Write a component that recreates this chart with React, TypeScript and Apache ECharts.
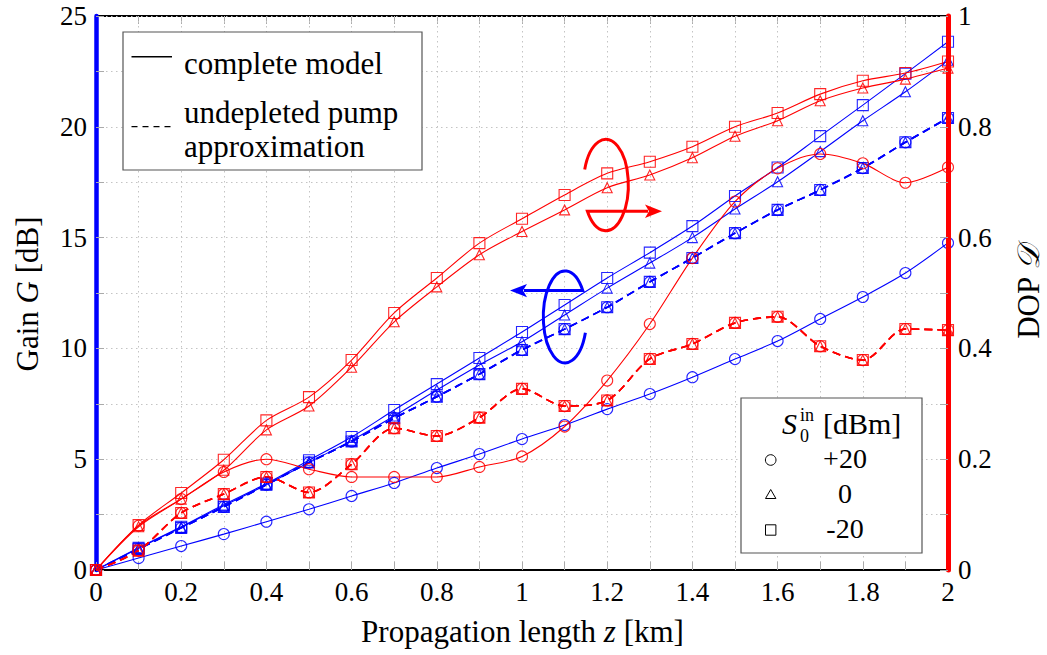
import React, { useEffect, useRef } from "react";
import * as echarts from "echarts";

const FONT = "Liberation Serif, DejaVu Serif, Times New Roman, serif";

// Propagation length z [km]
const zValues = [0, 0.1, 0.2, 0.3, 0.4, 0.5, 0.6, 0.7, 0.8, 0.9, 1.0, 1.1, 1.2, 1.3, 1.4, 1.5, 1.6, 1.7, 1.8, 1.9, 2.0];

// Gain G [dB], complete model
const gainComplete20 = [0, 0.54, 1.08, 1.62, 2.18, 2.74, 3.34, 3.93, 4.6, 5.23, 5.91, 6.54, 7.26, 7.94, 8.7, 9.52, 10.33, 11.33, 12.32, 13.4, 14.76];
const gainComplete0 = [0, 0.98, 1.92, 2.9, 3.85, 4.85, 5.85, 6.95, 8.12, 9.25, 10.3, 11.51, 12.72, 13.85, 15.0, 16.29, 17.52, 18.88, 20.27, 21.58, 23.0];
const gainCompleteM20 = [0, 1.0, 1.95, 2.95, 3.9, 4.95, 6.0, 7.22, 8.39, 9.57, 10.74, 11.96, 13.18, 14.32, 15.52, 16.88, 18.16, 19.58, 20.98, 22.4, 23.84];
// Gain G [dB], undepleted pump approximation
const gainUndepleted20 = [0, 0.95, 1.9, 2.85, 3.85, 4.85, 5.8, 6.85, 7.82, 8.84, 9.93, 10.87, 11.86, 13.0, 14.08, 15.2, 16.25, 17.15, 18.14, 19.3, 20.4];
const gainUndepleted0 = [0, 0.95, 1.9, 2.85, 3.85, 4.85, 5.8, 6.85, 7.82, 8.84, 9.93, 10.87, 11.86, 13.0, 14.08, 15.2, 16.25, 17.15, 18.14, 19.3, 20.4];
const gainUndepletedM20 = [0, 0.95, 1.9, 2.85, 3.85, 4.85, 5.8, 6.85, 7.82, 8.84, 9.93, 10.87, 11.86, 13.0, 14.08, 15.2, 16.25, 17.15, 18.14, 19.3, 20.4];

// DOP, complete model
const dopComplete20 = [0, 0.08, 0.128, 0.177, 0.2, 0.182, 0.168, 0.168, 0.168, 0.186, 0.205, 0.259, 0.342, 0.444, 0.563, 0.665, 0.725, 0.751, 0.734, 0.699, 0.727];
const dopComplete0 = [0, 0.078, 0.128, 0.18, 0.253, 0.296, 0.366, 0.448, 0.511, 0.569, 0.611, 0.65, 0.69, 0.713, 0.744, 0.783, 0.811, 0.847, 0.87, 0.886, 0.906];
const dopCompleteM20 = [0, 0.081, 0.139, 0.199, 0.27, 0.312, 0.379, 0.464, 0.527, 0.59, 0.634, 0.677, 0.716, 0.737, 0.764, 0.8, 0.825, 0.859, 0.883, 0.897, 0.918];
// DOP, undepleted pump approximation
const dopUndepleted20 = [0, 0.035, 0.103, 0.137, 0.168, 0.14, 0.191, 0.256, 0.242, 0.275, 0.327, 0.296, 0.306, 0.381, 0.408, 0.446, 0.457, 0.404, 0.379, 0.435, 0.433];
const dopUndepleted0 = [0, 0.035, 0.103, 0.137, 0.168, 0.14, 0.191, 0.256, 0.242, 0.275, 0.327, 0.296, 0.306, 0.381, 0.408, 0.446, 0.457, 0.404, 0.379, 0.435, 0.433];
const dopUndepletedM20 = [0, 0.035, 0.103, 0.137, 0.168, 0.14, 0.191, 0.256, 0.242, 0.275, 0.327, 0.296, 0.306, 0.381, 0.408, 0.446, 0.457, 0.404, 0.379, 0.435, 0.433];

const powerLabels = ["+20", "0", "-20"];

const BLUE = "#0000ff";
const RED = "#ff0000";

echarts.graphic.registerShape(
  "redLoop",
  echarts.graphic.extendPath("M584.7 169.4 A22.5 45.7 0 1 1 587.4 211.2 L648 211.2", {})
);
echarts.graphic.registerShape(
  "blueLoop",
  echarts.graphic.extendPath("M585.4 332.7 A21.7 46 0 1 1 582.8 290.6 L524 290.6", {})
);

function mkSeries(name: string, values: number[], yIndex: number, color: string, symbol: string, size: number, dashed: boolean) {
  return {
    name,
    type: "line",
    yAxisIndex: yIndex,
    data: zValues.map((z, i) => [z, values[i]]),
    smooth: 0.3,
    clip: false,
    symbol,
    symbolSize: size,
    showSymbol: true,
    lineStyle: { color, width: dashed ? 1.6 : 1.1, type: dashed ? [8, 5] : "solid" },
    itemStyle: { color: "rgba(0,0,0,0)", borderColor: color, borderWidth: 1.1, opacity: 0.85 },
    emphasis: { disabled: true },
    z: 2,
  };
}

const txt = (text: string, x: number, y: number, size: number, extra: any = {}) => {
  const base = {
    fontFamily: FONT,
    fontSize: size,
    fontStyle: extra.italic ? "italic" : "normal",
    fill: "#000",
  };
  const style: any = {
    text,
    ...base,
    textAlign: extra.align || "left",
    textVerticalAlign: "middle",
    rich: {
      i: { ...base, fontStyle: "italic" },
    },
  };
  return {
    type: "text",
    x,
    y,
    z: 20,
    style,
    rotation: extra.rotation || 0,
  };
};

export default function App() {
  const ref = useRef<HTMLDivElement>(null);
  useEffect(() => {
    if (!ref.current) return;
    const chart = echarts.init(ref.current, undefined, { renderer: "svg" });
    const gridLine = { show: true, lineStyle: { color: "#c4c4c4", width: 1, type: [1.5, 3.5] } };
    const tick = { show: true, inside: true, length: 8, lineStyle: { color: "#aaaaaa", width: 1 } };
    const minorTick = { show: true, splitNumber: 2, length: 8, lineStyle: { color: "#aaaaaa", width: 1 } };
    const labelStyle = { fontFamily: FONT, fontSize: 27, color: "#000" };
    const option: any = {
      animation: false,
      grid: { left: 96, right: 99, top: 16, bottom: 85, containLabel: false },
      xAxis: [
        {
          type: "value",
          min: 0,
          max: 2,
          interval: 0.2,
          position: "bottom",
          axisLine: { show: true, onZero: false, lineStyle: { color: "#000", width: 2.2 } },
          axisTick: tick,
          minorTick,
          splitLine: gridLine,
          minorSplitLine: gridLine,
          axisLabel: { ...labelStyle, margin: 8 },
          z: 1,
        },
        {
          type: "value",
          min: 0,
          max: 2,
          interval: 0.2,
          position: "top",
          axisLine: { show: true, onZero: false, lineStyle: { color: "#000", width: 2.2 } },
          axisTick: tick,
          minorTick,
          splitLine: { show: false },
          axisLabel: { show: false },
        },
      ],
      yAxis: [
        {
          type: "value",
          min: 0,
          max: 25,
          interval: 5,
          position: "left",
          axisLine: { show: true, onZero: false, lineStyle: { color: BLUE, width: 4.5 } },
          axisTick: tick,
          minorTick,
          splitLine: gridLine,
          minorSplitLine: gridLine,
          axisLabel: { ...labelStyle, margin: 9 },
          z: 1,
        },
        {
          type: "value",
          min: 0,
          max: 1,
          interval: 0.2,
          position: "right",
          axisLine: { show: true, onZero: false, lineStyle: { color: RED, width: 5 } },
          axisTick: tick,
          minorTick,
          splitLine: { show: false },
          axisLabel: { ...labelStyle, margin: 10 },
          z: 5,
        },
      ],
      series: [
        mkSeries("gain complete +20", gainComplete20, 0, BLUE, "circle", 11, false),
        mkSeries("gain complete 0", gainComplete0, 0, BLUE, "triangle", 10, false),
        mkSeries("gain complete -20", gainCompleteM20, 0, BLUE, "rect", 11, false),
        mkSeries("gain undepleted +20", gainUndepleted20, 0, BLUE, "circle", 11, true),
        mkSeries("gain undepleted 0", gainUndepleted0, 0, BLUE, "triangle", 10, true),
        mkSeries("gain undepleted -20", gainUndepletedM20, 0, BLUE, "rect", 11, true),
        mkSeries("DOP complete +20", dopComplete20, 1, RED, "circle", 11, false),
        mkSeries("DOP complete 0", dopComplete0, 1, RED, "triangle", 10, false),
        mkSeries("DOP complete -20", dopCompleteM20, 1, RED, "rect", 11, false),
        mkSeries("DOP undepleted +20", dopUndepleted20, 1, RED, "circle", 11, true),
        mkSeries("DOP undepleted 0", dopUndepleted0, 1, RED, "triangle", 10, true),
        mkSeries("DOP undepleted -20", dopUndepletedM20, 1, RED, "rect", 11, true),
      ],
      graphic: [
        // arrows with loops
        { type: "redLoop", x: 0, y: 0, z: 15, style: { stroke: RED, fill: "none", lineWidth: 3 } },
        { type: "polygon", z: 15, shape: { points: [[662, 211.2], [645, 204.5], [649, 211.2], [645, 218]] }, style: { fill: RED } },
        { type: "blueLoop", x: 0, y: 0, z: 15, style: { stroke: BLUE, fill: "none", lineWidth: 3 } },
        { type: "polygon", z: 15, shape: { points: [[510, 290.6], [527, 284], [523, 290.6], [527, 297.2]] }, style: { fill: BLUE } },
        // legend 1
        { type: "rect", z: 18, shape: { x: 123, y: 32, width: 299, height: 138 }, style: { fill: "#fff", stroke: "#555", lineWidth: 1.2 } },
        { type: "line", z: 19, shape: { x1: 131.5, y1: 56.7, x2: 172, y2: 56.7 }, style: { stroke: "#000", lineWidth: 1.6 } },
        { type: "line", z: 19, shape: { x1: 131.5, y1: 126.7, x2: 172, y2: 126.7 }, style: { stroke: "#000", lineWidth: 1.2, lineDash: [6, 5] } },
        txt("complete model", 184, 63.5, 31),
        txt("undepleted pump", 184, 112.5, 31),
        txt("approximation", 184, 146.5, 31),
        // legend 2
        { type: "rect", z: 18, shape: { x: 741, y: 398, width: 181, height: 155 }, style: { fill: "#fff", stroke: "#555", lineWidth: 1.2 } },
        txt("S", 782, 423, 30, { italic: true }),
        txt("in", 800, 414.5, 18),
        txt("0", 800, 436, 18),
        txt("[dBm]", 823, 423, 30),
        { type: "circle", z: 19, shape: { cx: 770.7, cy: 460, r: 5.3 }, style: { fill: "none", stroke: "#000", lineWidth: 1 } },
        { type: "polygon", z: 19, shape: { points: [[770.7, 489.5], [765.5, 498.5], [775.9, 498.5]] }, style: { fill: "none", stroke: "#000", lineWidth: 1 } },
        { type: "rect", z: 19, shape: { x: 765.5, y: 524.8, width: 10.4, height: 10.4 }, style: { fill: "none", stroke: "#000", lineWidth: 1 } },
        txt(powerLabels[0], 845, 458.5, 28, { align: "center" }),
        txt(powerLabels[1], 845, 493.5, 28, { align: "center" }),
        txt(powerLabels[2], 845, 528.5, 28, { align: "center" }),
        // axis names
        txt("Propagation length {i|z} [km]", 522.5, 631, 31, { align: "center" }),
        txt("Gain {i|G} [dB]", 27, 294, 31, { align: "center", rotation: Math.PI / 2 }),
        txt("DOP {i|𝒟}", 1028, 292, 31, { align: "center", rotation: Math.PI / 2 }),
      ],
    };
    chart.setOption(option);
    return () => chart.dispose();
  }, []);
  return <div ref={ref} style={{ position: "absolute", left: 0, top: 0, width: 1047, height: 655 }} />;
}
